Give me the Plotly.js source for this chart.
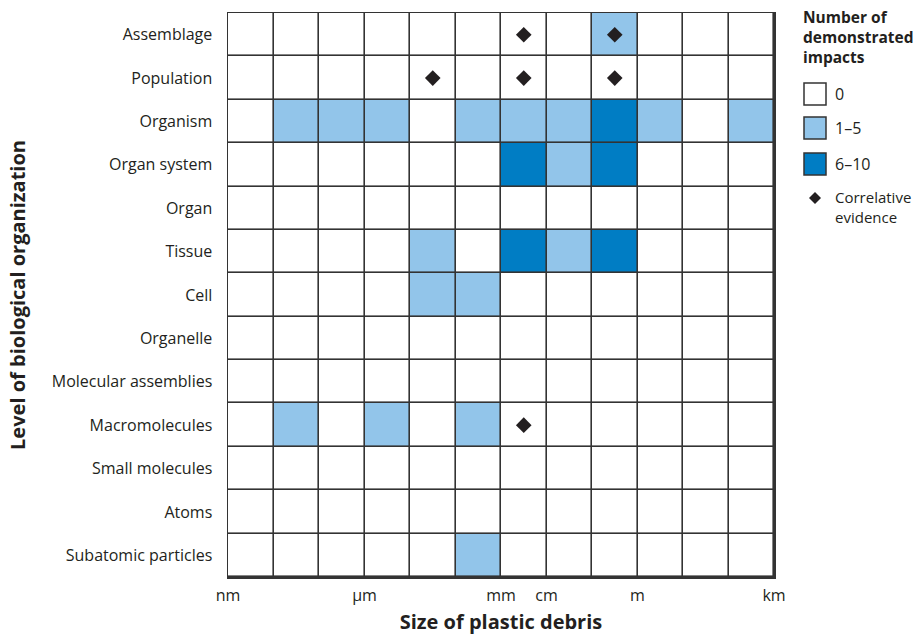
<!DOCTYPE html>
<html>
<head>
<meta charset="utf-8">
<script src="https://cdn.plot.ly/plotly-3.0.1.min.js"></script>
<style>html,body{margin:0;padding:0;background:#fff}#chart{width:923px;height:635px}</style>
</head>
<body>
<div id="chart"></div>
<script>
// Levels of biological organization (top to bottom)
const levels = ["Assemblage","Population","Organism","Organ system","Organ","Tissue","Cell","Organelle","Molecular assemblies","Macromolecules","Small molecules","Atoms","Subatomic particles"];
// Size bins: one per order of magnitude, nm (10^-9 m) to km (10^3 m)
const sizeBins = [0,1,2,3,4,5,6,7,8,9,10,11];
// Impact class per cell: 0 = none, 1 = 1–5 impacts, 2 = 6–10 impacts
const impactAssemblage   = [0,0,0,0,0,0,0,0,1,0,0,0];
const impactPopulation   = [0,0,0,0,0,0,0,0,0,0,0,0];
const impactOrganism     = [0,1,1,1,0,1,1,1,2,1,0,1];
const impactOrganSystem  = [0,0,0,0,0,0,2,1,2,0,0,0];
const impactOrgan        = [0,0,0,0,0,0,0,0,0,0,0,0];
const impactTissue       = [0,0,0,0,1,0,2,1,2,0,0,0];
const impactCell         = [0,0,0,0,1,1,0,0,0,0,0,0];
const impactOrganelle    = [0,0,0,0,0,0,0,0,0,0,0,0];
const impactMolAssembly  = [0,0,0,0,0,0,0,0,0,0,0,0];
const impactMacromol     = [0,1,0,1,0,1,0,0,0,0,0,0];
const impactSmallMol     = [0,0,0,0,0,0,0,0,0,0,0,0];
const impactAtoms        = [0,0,0,0,0,0,0,0,0,0,0,0];
const impactSubatomic    = [0,0,0,0,0,1,0,0,0,0,0,0];
// Correlative evidence (level, size bin)
const evidenceLevel = ["Assemblage","Assemblage","Population","Population","Population","Macromolecules"];
const evidenceBin   = [6,8,4,6,8,6];
// Size tick labels at bin edges
const sizeTickVals = [0,3,6,7,9,12];
const sizeTickText = ["nm","µm","mm","cm","m","km"];
// Legend entries
const legendTitle = "Number of<br>demonstrated<br>impacts";
const legendLabels = ["0","1–5","6–10"];
const evidenceLabel = "Correlative<br>evidence";

const LIGHT = "#92c5ea", DARK = "#007dc4", LINE = "#333333", TXT = "#231f20";
const FONT = "Open Sans, Lato, sans-serif";

const z = [impactAssemblage,impactPopulation,impactOrganism,impactOrganSystem,impactOrgan,impactTissue,impactCell,impactOrganelle,impactMolAssembly,impactMacromol,impactSmallMol,impactAtoms,impactSubatomic];

const heat = {
  type: "heatmap",
  x: sizeBins.map(b => b + 0.5),
  y: levels,
  z: z,
  zmin: 0, zmax: 2,
  colorscale: [[0,"#ffffff"],[0.333,"#ffffff"],[0.334,LIGHT],[0.666,LIGHT],[0.667,DARK],[1,DARK]],
  showscale: false,
  xgap: 1.6, ygap: 1.6,
  hoverinfo: "skip"
};
const diamonds = {
  type: "scatter", mode: "markers",
  x: evidenceBin.map(b => b + 0.5),
  y: evidenceLevel,
  marker: {symbol: "diamond", size: 12, color: TXT},
  showlegend: false, hoverinfo: "skip"
};

// Legend built from shapes + annotations (paper coords)
const W = 923 - 228 - 149, H = 635 - 13 - 58;
const px = x => (x - 228) / W;
const py = y => 1 - (y - 13) / H;
const legendColors = ["#ffffff", LIGHT, DARK];
const boxTops = [83, 117, 153];
const shapes = [], annotations = [];
legendColors.forEach((c, i) => {
  shapes.push({type:"rect", xref:"paper", yref:"paper", x0:px(804), x1:px(826), y0:py(boxTops[i]), y1:py(boxTops[i]+22), fillcolor:c, line:{color:LINE, width:1.5}});
  annotations.push({xref:"paper", yref:"paper", x:px(833), y:py(boxTops[i]+11), xanchor:"left", yanchor:"middle", showarrow:false, text:legendLabels[i], font:{family:FONT, size:16, color:TXT}});
});
annotations.push({xref:"paper", yref:"paper", x:px(801), y:py(37), xanchor:"left", yanchor:"middle", align:"left", showarrow:false,
  text:"<b>" + legendTitle + "</b>", font:{family:FONT, size:15.5, color:TXT}});
annotations.push({xref:"paper", yref:"paper", x:px(833), y:py(207), xanchor:"left", yanchor:"middle", align:"left", showarrow:false,
  text:evidenceLabel, font:{family:FONT, size:15, color:TXT}});
// legend diamond
const dcx = 815, dcy = 198, dr = 6;
shapes.push({type:"path", xref:"paper", yref:"paper",
  path:`M ${px(dcx-dr)} ${py(dcy)} L ${px(dcx)} ${py(dcy-dr)} L ${px(dcx+dr)} ${py(dcy)} L ${px(dcx)} ${py(dcy+dr)} Z`,
  fillcolor:TXT, line:{width:0}});

const layout = {
  width: 923, height: 635,
  margin: {l:228, r:149, t:13, b:58},
  paper_bgcolor: "#ffffff", plot_bgcolor: LINE,
  font: {family: FONT, size: 16, color: TXT},
  xaxis: {
    range: [0, 12], tickvals: sizeTickVals, ticktext: sizeTickText,
    showgrid: false, zeroline: false, ticks: "", ticklabelstandoff: 3,
    showline: true, mirror: true, linecolor: LINE, linewidth: 1.5,
    title: {text: "<b>Size of plastic debris</b>", font: {size: 20, color: TXT}, standoff: 16},
    automargin: false, fixedrange: true
  },
  yaxis: {
    type: "category", range: [12.5, -0.5],
    showgrid: false, zeroline: false, ticks: "", ticklabelstandoff: 11,
    showline: true, mirror: true, linecolor: LINE, linewidth: 1.5,
    title: {text: "<b>Level of biological organization</b>", font: {size: 20, color: TXT}, standoff: 20},
    automargin: false, fixedrange: true
  },
  shapes: shapes,
  annotations: annotations,
  showlegend: false
};

Plotly.newPlot("chart", [heat, diamonds], layout, {staticPlot: true, displayModeBar: false});
</script>
</body>
</html>
